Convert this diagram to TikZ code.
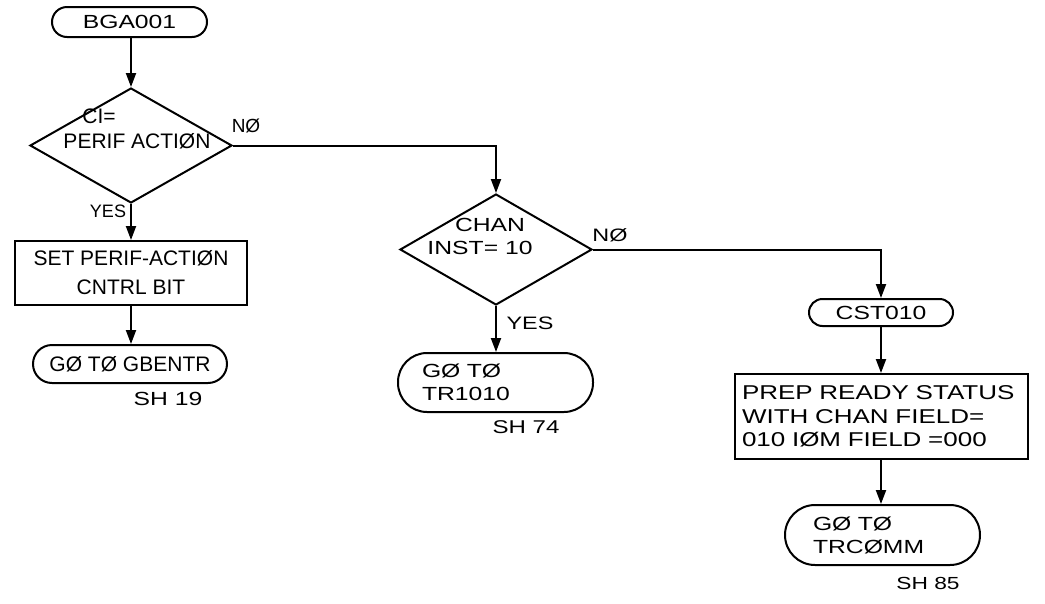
\documentclass[tikz,border=0pt]{standalone}
\usepackage{fontspec}
\setmainfont{Liberation Sans}
\newfontfamily\widefont[FakeStretch=1.3]{Liberation Sans}
\usetikzlibrary{shapes.geometric,arrows.meta}
\begin{document}
\begin{tikzpicture}[x=1pt,y=-1pt,
  line width=2pt,
  flow/.style={-{Triangle[length=14pt,width=10pt]}},
  term/.style={draw, rectangle, inner sep=0pt},
  box/.style={draw, rectangle, inner sep=0pt},
  dec/.style={draw, diamond, inner sep=0pt},
  lbl/.style={inner sep=0pt},
  lfont/.style={font=\fontsize{21}{29}\selectfont},
  rfont/.style={font=\widefont\fontsize{19}{23}\selectfont},
]
\useasboundingbox[fill=white] (0,0) rectangle (1045,603);

% left column
\node[term, minimum width=155pt, minimum height=30pt, rounded corners=15pt, rfont] (bga) at (129.5,22) {BGA001};
\node[dec, minimum width=202pt, minimum height=115pt] (d1) at (131,145.5) {};
\node[lbl, lfont] (d1a) at (99,116) {CI=};
\node[lbl, lfont] (d1b) at (137,141) {PERIF ACTIØN};
\node[box, minimum width=232pt, minimum height=64pt, align=center, lfont] (r1) at (131,273) {SET PERIF-ACTIØN\\CNTRL BIT};
\node[term, minimum width=194pt, minimum height=38pt, rounded corners=19pt, lfont] (gb) at (130,364) {GØ TØ GBENTR};
\node[lbl, font=\widefont\fontsize{19}{23}\selectfont] (sh19) at (168,399) {SH 19};
\node[lbl, font=\fontsize{19}{22}\selectfont] (no1) at (246,126) {NØ};
\node[lbl, font=\fontsize{18}{21}\selectfont] (yes1) at (108,211) {YES};

% middle column
\node[dec, minimum width=192pt, minimum height=111pt] (d2) at (496,249.5) {};
\node[lbl, rfont] (d2a) at (490,225) {CHAN};
\node[lbl, rfont] (d2b) at (480,248) {INST= 10};
\node[term, text width=147pt, inner xsep=24pt, minimum height=59pt, rounded corners=29pt, align=left, rfont] (tr) at (495.5,382.5) {GØ TØ\\TR1010};
\node[lbl, font=\widefont\fontsize{18.5}{22}\selectfont] (sh74) at (526,427) {SH 74};
\node[lbl, font=\widefont\fontsize{18}{21}\selectfont] (no2) at (610,235) {NØ};
\node[lbl, font=\widefont\fontsize{18}{21}\selectfont] (yes2) at (530,323) {YES};

% right column
\node[term, minimum width=144pt, minimum height=27pt, rounded corners=13.5pt, rfont] (cst) at (881,312.5) {CST010};
\node[box, text width=279pt, inner xsep=7pt, minimum height=85pt, align=left, font=\widefont\fontsize{20}{23.5}\selectfont] (r2) at (881.5,416.5) {PREP READY STATUS\\WITH CHAN FIELD=\\010 IØM FIELD =000};
\node[term, text width=139pt, inner xsep=28pt, minimum height=60pt, rounded corners=30pt, align=left, rfont] (tc) at (882.5,535) {GØ TØ\\TRCØMM};
\node[lbl, font=\widefont\fontsize{17.5}{20}\selectfont] (sh85) at (928,583) {SH 85};

% connectors
\draw[flow] (d1.north |- bga.south) -- (d1.north);
\draw[flow] (d1.south) -- (d1.south |- r1.north);
\draw[flow] (d1.south |- r1.south) -- (d1.south |- gb.north);
\draw[flow] (d1.east) -- (d1.east -| d2.north) -- (d2.north);
\draw[flow] (d2.south) -- (d2.south |- tr.north);
\draw[flow] (d2.east) -- (d2.east -| cst.north) -- (cst.north);
\draw[flow] (cst.south) -- (cst.south |- r2.north);
\draw[flow] (cst.south |- r2.south) -- (cst.south |- tc.north);
\end{tikzpicture}
\end{document}
